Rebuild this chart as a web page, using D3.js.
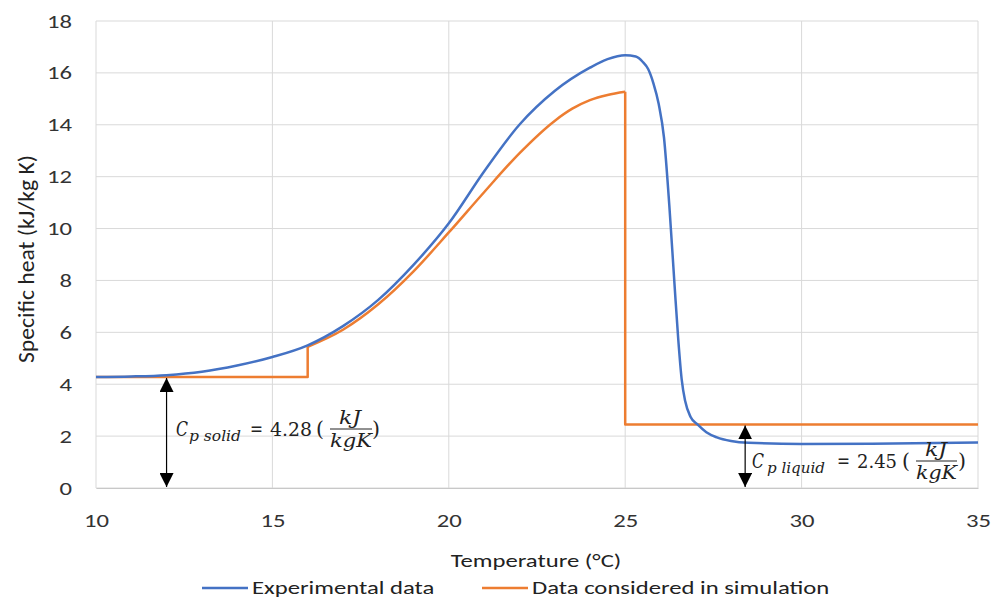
<!DOCTYPE html>
<html><head><meta charset="utf-8">
<script src="https://cdn.jsdelivr.net/npm/d3@7"></script>
<style>body{margin:0;background:#fff}svg{display:block}</style>
</head><body>
<svg id="c" width="998" height="601"></svg>
<script>
// ---- data ----
const xTicks = [10, 15, 20, 25, 30, 35];
const yTicks = [0, 2, 4, 6, 8, 10, 12, 14, 16, 18];
const expT  = [10, 11, 12, 13, 14, 15, 16, 17, 18, 19, 20, 21, 22, 23, 24, 24.5, 25, 25.3, 25.5, 25.65, 25.8, 25.95, 26.1, 26.25, 26.4, 26.5, 26.6, 26.7, 26.85, 27.05, 27.3, 27.6, 28, 28.5, 30, 32, 35];
const expCp = [4.28, 4.3, 4.35, 4.48, 4.72, 5.05, 5.5, 6.24, 7.25, 8.6, 10.2, 12.2, 14.0, 15.3, 16.2, 16.53, 16.68, 16.63, 16.42, 16.15, 15.6, 14.8, 13.5, 10.9, 7.8, 5.8, 4.2, 3.35, 2.75, 2.45, 2.15, 1.95, 1.81, 1.74, 1.7, 1.71, 1.75];
const simSolidT  = [10, 16, 16];
const simSolidCp = [4.28, 4.28, 5.44];
const simMeltT   = [16, 17, 18, 19, 20, 21, 22, 23, 23.5, 24, 24.5, 25];
const simMeltCp  = [5.44, 6.1, 7.08, 8.35, 9.85, 11.4, 12.9, 14.15, 14.62, 14.95, 15.15, 15.27];
const simLiqT    = [25, 25, 35];
const simLiqCp   = [15.27, 2.45, 2.45];
const cpSolid = 4.28, cpLiquid = 2.45;
const arrowSolidT = 12, arrowLiquidT = 28.4;
const legendLabels = ["Experimental data", "Data considered in simulation"];

// ---- layout ----
const svg = d3.select("#c");
const L = 96, R = 978, T = 21, B = 488;
const SX = 1.3; // horizontal stretch of text in the reference
const x = d3.scaleLinear().domain([10, 35]).range([L, R]);
const y = d3.scaleLinear().domain([0, 18]).range([B, T]);
const font = "Carlito, Lato, 'Liberation Sans', sans-serif";
const blue = "#4472C4", orange = "#ED7D31", grid = "#d9d9d9";

// grid
svg.append("g").selectAll("line").data(yTicks).join("line")
  .attr("x1", L).attr("x2", R).attr("y1", d => y(d)).attr("y2", d => y(d))
  .attr("stroke", grid).attr("stroke-width", 1);
svg.append("g").selectAll("line").data(xTicks).join("line")
  .attr("y1", T).attr("y2", B).attr("x1", d => x(d)).attr("x2", d => x(d))
  .attr("stroke", grid).attr("stroke-width", 1);

// axes
const xa = svg.append("g").attr("transform", `translate(0,${B})`)
  .call(d3.axisBottom(x).tickValues(xTicks).tickSize(0).tickPadding(26));
xa.select(".domain").attr("stroke", "#c8c8c8");
xa.selectAll(".tick text").attr("x", 0).attr("transform", `scale(${SX},1)`);
const ya = svg.append("g").attr("transform", `translate(${L},0)`)
  .call(d3.axisLeft(y).tickValues(yTicks).tickSize(0));
ya.select(".domain").remove();
ya.selectAll(".tick text").attr("x", 0).attr("transform", `translate(-24,0) scale(${SX},1)`);
svg.selectAll(".tick text").attr("font-family", font).attr("font-size", 19).attr("fill", "#333");

// titles
svg.append("text").attr("transform", `translate(${(L + R) / 2 - 1},567) scale(${SX},1)`).attr("text-anchor", "middle")
  .attr("font-family", font).attr("font-size", 19).attr("fill", "#222").text("Temperature (°C)");
svg.append("text").attr("transform", `translate(34,259) scale(${SX},1) rotate(-90)`).attr("text-anchor", "middle")
  .attr("font-family", font).attr("font-size", 18).attr("fill", "#222")
  .attr("textLength", 208).attr("lengthAdjust", "spacingAndGlyphs").text("Specific heat (kJ/kg K)");

// lines
const lin = d3.line().x(d => x(d[0])).y(d => y(d[1]));
const mono = d3.line().x(d => x(d[0])).y(d => y(d[1])).curve(d3.curveMonotoneX);
const zip = (a, b) => a.map((v, i) => [v, b[i]]);
const g = svg.append("g").attr("fill", "none").attr("stroke-linejoin", "round");
g.append("path").attr("d", lin(zip(simSolidT, simSolidCp))).attr("stroke", orange).attr("stroke-width", 2.5);
g.append("path").attr("d", mono(zip(simMeltT, simMeltCp))).attr("stroke", orange).attr("stroke-width", 2.5);
g.append("path").attr("d", lin(zip(simLiqT, simLiqCp))).attr("stroke", orange).attr("stroke-width", 2.5);
g.append("path").attr("d", mono(zip(expT, expCp))).attr("stroke", blue).attr("stroke-width", 2.5);

// arrows
const defs = svg.append("defs");
["s", "e"].forEach(id => {
  defs.append("marker").attr("id", "m" + id).attr("viewBox", "0 0 10 10").attr("refX", 10).attr("refY", 5)
    .attr("markerWidth", 14).attr("markerHeight", 14).attr("markerUnits", "userSpaceOnUse")
    .attr("orient", "auto-start-reverse").append("path").attr("d", "M0,0L10,5L0,10Z").attr("fill", "#000");
});
function arrow(t, v) {
  svg.append("line").attr("x1", x(t)).attr("x2", x(t)).attr("y1", y(v) + 1).attr("y2", y(0) - 1)
    .attr("stroke", "#000").attr("stroke-width", 1.2)
    .attr("marker-start", "url(#ms)").attr("marker-end", "url(#me)");
}
arrow(arrowSolidT, cpSolid);
arrow(arrowLiquidT, cpLiquid);

// annotation formulas (each piece placed at its x with its width)
const serif = "'DejaVu Serif', 'Liberation Serif', serif";
function formula(p, base, sub, val) {
  const t = svg.append("g").attr("font-family", serif).attr("fill", "#222");
  const tx = (xx, yy, s, size, it, w, anchor) => {
    const e = t.append("text").attr("x", xx).attr("y", yy)
      .attr("font-size", size).attr("font-style", it ? "italic" : "normal")
      .attr("text-anchor", anchor || "start").text(s);
    if (w) e.attr("textLength", w).attr("lengthAdjust", "spacingAndGlyphs");
  };
  tx(p.c, base, "C", 20, true, 12);
  tx(p.sub, base + 5, sub, 14, true, p.subW);
  tx(p.eq, base, "=", 20, false, 13);
  tx(p.val, base, val, 19, false, p.valW);
  tx(p.lp, base, "(", 20, false, 8);
  tx(p.f0 + 9, base - 12, "kJ", 18, true, 22);
  t.append("line").attr("x1", p.f0).attr("x2", p.f1).attr("y1", base - 7).attr("y2", base - 7)
    .attr("stroke", "#222").attr("stroke-width", 1);
  tx(p.f0, base + 11, "kgK", 18, true, p.f1 - p.f0);
  tx(p.rp, base, ")", 20, false, 8);
}
formula({c: 176, sub: 189, subW: 52, eq: 250, val: 270, valW: 42, lp: 316, f0: 330, f1: 372, rp: 372}, 436, "p solid", cpSolid.toFixed(2));
formula({c: 752, sub: 767, subW: 58, eq: 837, val: 857, valW: 40, lp: 902, f0: 916, f1: 957, rp: 958}, 468, "p liquid", cpLiquid.toFixed(2));

// legend
const lg = svg.append("g").attr("font-family", font).attr("font-size", 19).attr("fill", "#222");
lg.append("line").attr("x1", 202).attr("x2", 248).attr("y1", 588).attr("y2", 588).attr("stroke", blue).attr("stroke-width", 2.5);
lg.append("text").attr("transform", `translate(252,594) scale(${SX},1)`).text(legendLabels[0]);
lg.append("line").attr("x1", 482).attr("x2", 528).attr("y1", 588).attr("y2", 588).attr("stroke", orange).attr("stroke-width", 2.5);
lg.append("text").attr("transform", `translate(532,594) scale(${SX},1)`).text(legendLabels[1]);
</script>
</body></html>
